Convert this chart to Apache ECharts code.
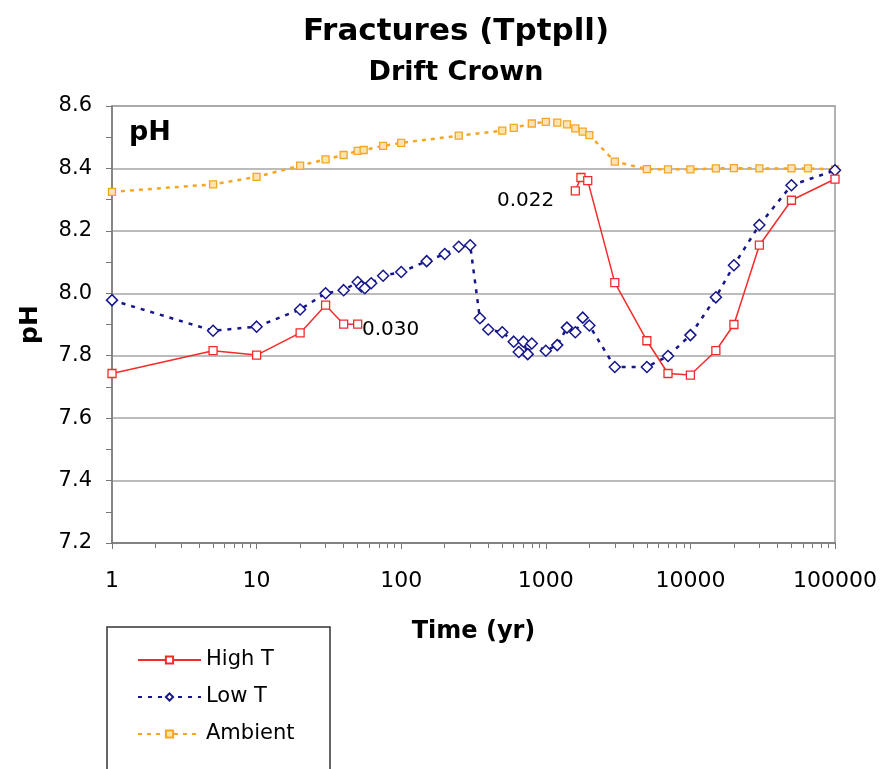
<!DOCTYPE html>
<html>
<head>
<meta charset="utf-8">
<script src="https://cdn.jsdelivr.net/npm/echarts@6/dist/echarts.min.js"></script>
<style>
  html, body { margin: 0; padding: 0; background: #fff; }
  #chart { width: 896px; height: 769px; }
</style>
</head>
<body>
<div id="chart"></div>
<script>
// 数据 (Time in yr, pH)
const highTX = [1, 5, 10, 20, 30, 40, 50, 200, 1600, 1750, 1950, 3000, 5000, 7000, 10000, 15000, 20000, 30000, 50000, 100000]
const highTY = [7.743, 7.816, 7.802, 7.873, 7.962, 7.901, 7.901, null, 8.328, 8.371, 8.361, 8.034, 7.848, 7.743, 7.738, 7.816, 7.900, 8.154, 8.298, 8.366]

const lowTX = [1, 5, 10, 20, 30, 40, 50, 53, 56, 62, 75, 100, 150, 200, 250, 300, 350, 400, 500, 600, 650, 700, 750, 800, 1000, 1200, 1400, 1600, 1800, 2000, 3000, 5000, 7000, 10000, 15000, 20000, 30000, 50000, 100000]
const lowTY = [7.978, 7.880, 7.893, 7.948, 8.000, 8.010, 8.036, 8.022, 8.016, 8.032, 8.056, 8.068, 8.103, 8.126, 8.149, 8.154, 7.920, 7.884, 7.875, 7.845, 7.812, 7.845, 7.805, 7.839, 7.816, 7.834, 7.890, 7.875, 7.922, 7.897, 7.764, 7.764, 7.799, 7.866, 7.987, 8.090, 8.219, 8.346, 8.394]

const ambientX = [1, 5, 10, 20, 30, 40, 50, 55, 75, 100, 250, 500, 600, 800, 1000, 1200, 1400, 1600, 1800, 2000, 3000, 5000, 7000, 10000, 15000, 20000, 30000, 50000, 65000, 100000]
const ambientY = [8.325, 8.349, 8.373, 8.409, 8.429, 8.443, 8.456, 8.459, 8.472, 8.482, 8.505, 8.521, 8.530, 8.544, 8.549, 8.547, 8.541, 8.528, 8.518, 8.507, 8.422, 8.398, 8.397, 8.397, 8.400, 8.401, 8.400, 8.400, 8.400, 8.397]

const yTicks = [7.2, 7.4, 7.6, 7.8, 8.0, 8.2, 8.4, 8.6]
const xMinorTicks = [2, 3, 4, 5, 6, 7, 8, 9, 20, 30, 40, 50, 60, 70, 80, 90,
  200, 300, 400, 500, 600, 700, 800, 900, 2000, 3000, 4000, 5000, 6000, 7000, 8000, 9000,
  20000, 30000, 40000, 50000, 60000, 70000, 80000, 90000]

const FONT = 'DejaVu Sans, sans-serif'
const RED = '#f52a2a'
const NAVY = '#16168c'
const ORANGE = '#f5a623'

// [x, y] 数组，null 表示断开
const pairs = (xs, ys) => xs.map((x, i) => [x, ys[i] === null ? '-' : ys[i]])

const chart = echarts.init(document.getElementById('chart'))

chart.setOption({
  animation: false,
  textStyle: { fontFamily: FONT },
  title: {
    text: 'Fractures (Tptpll)',
    subtext: 'Drift Crown',
    left: 451,
    top: 11,
    textAlign: 'center',
    itemGap: 12,
    textStyle: { fontSize: 31, fontWeight: 'bold', color: '#000', fontFamily: FONT },
    subtextStyle: { fontSize: 27, fontWeight: 'bold', color: '#000', fontFamily: FONT }
  },
  grid: {
    left: 112,
    right: 61,
    top: 106,
    bottom: 226,
    show: true,
    borderColor: '#999',
    borderWidth: 1.5
  },
  legend: {
    left: 107,
    top: 627,
    orient: 'vertical',
    padding: [21, 20, 5, 30],
    itemWidth: 63,
    itemHeight: 9,
    itemGap: 13,
    textStyle: { fontSize: 21, color: '#000', lineHeight: 24, fontFamily: FONT },
    data: ['High T', 'Low T', 'Ambient']
  },
  xAxis: [
    {
      type: 'log',
      logBase: 10,
      min: 1,
      max: 100000,
      name: 'Time (yr)',
      nameLocation: 'middle',
      nameGap: 77,
      nameTextStyle: { fontSize: 24, fontWeight: 'bold', color: '#000', fontFamily: FONT },
      axisLine: { lineStyle: { color: '#777', width: 1.5 } },
      axisTick: { length: 6, lineStyle: { color: '#777' } },
      axisLabel: {
        fontSize: 22,
        color: '#000',
        margin: 27,
        formatter: v => String(Math.round(v))
      },
      splitLine: { show: false }
    },
    {
      type: 'log',
      logBase: 10,
      min: 1,
      max: 100000,
      position: 'bottom',
      axisLine: { show: false },
      axisLabel: { show: false },
      splitLine: { show: false },
      axisTick: { length: 5, customValues: xMinorTicks, lineStyle: { color: '#777' } }
    }
  ],
  yAxis: {
    type: 'value',
    min: 7.2,
    max: 8.6,
    interval: 0.2,
    name: 'pH',
    nameLocation: 'middle',
    nameRotate: 90,
    nameGap: 69,
    nameTextStyle: { fontSize: 25, fontWeight: 'bold', color: '#000', fontFamily: FONT },
    axisLine: { show: true, lineStyle: { color: '#777', width: 1.5 } },
    axisTick: { show: true, length: 6, lineStyle: { color: '#777' } },
    minorTick: { show: true, splitNumber: 2, length: 6, lineStyle: { color: '#777' } },
    axisLabel: {
      fontSize: 21,
      color: '#000',
      margin: 20,
      formatter: v => {
        const t = yTicks.find(k => Math.abs(k - v) < 1e-6)
        return t === undefined ? '' : t.toFixed(1)
      }
    },
    splitLine: { lineStyle: { color: '#a6a6a6', width: 1.5 } }
  },
  graphic: [
    { type: 'text', left: 129, top: 119, style: { text: 'pH', font: 'bold 27px ' + FONT, fill: '#000' } },
    { type: 'text', left: 362, top: 320, style: { text: '0.030', font: '20px ' + FONT, fill: '#000' } },
    { type: 'text', left: 497, top: 191, style: { text: '0.022', font: '20px ' + FONT, fill: '#000' } },
    // 图例外框（下边超出画面）
    {
      type: 'rect',
      silent: true,
      shape: { x: 107, y: 627, width: 223, height: 200 },
      style: { fill: 'none', stroke: '#333', lineWidth: 1.5 }
    }
  ],
  series: [
    {
      name: 'Ambient',
      type: 'line',
      data: pairs(ambientX, ambientY),
      symbol: 'rect',
      symbolSize: 7,
      z: 2,
      lineStyle: { color: ORANGE, width: 2.5, type: [4, 5] },
      itemStyle: { color: '#fde3b3', borderColor: ORANGE, borderWidth: 1.3 }
    },
    {
      name: 'Low T',
      type: 'line',
      data: pairs(lowTX, lowTY),
      symbol: 'diamond',
      symbolSize: 11,
      z: 3,
      lineStyle: { color: NAVY, width: 2.5, type: [4, 6] },
      itemStyle: { color: '#fff', borderColor: NAVY, borderWidth: 1.5 }
    },
    {
      name: 'High T',
      type: 'line',
      data: pairs(highTX, highTY),
      symbol: 'rect',
      symbolSize: 8,
      z: 4,
      connectNulls: false,
      lineStyle: { color: RED, width: 1.5 },
      itemStyle: { color: '#fff', borderColor: RED, borderWidth: 1.3 }
    }
  ]
})
</script>
</body>
</html>
